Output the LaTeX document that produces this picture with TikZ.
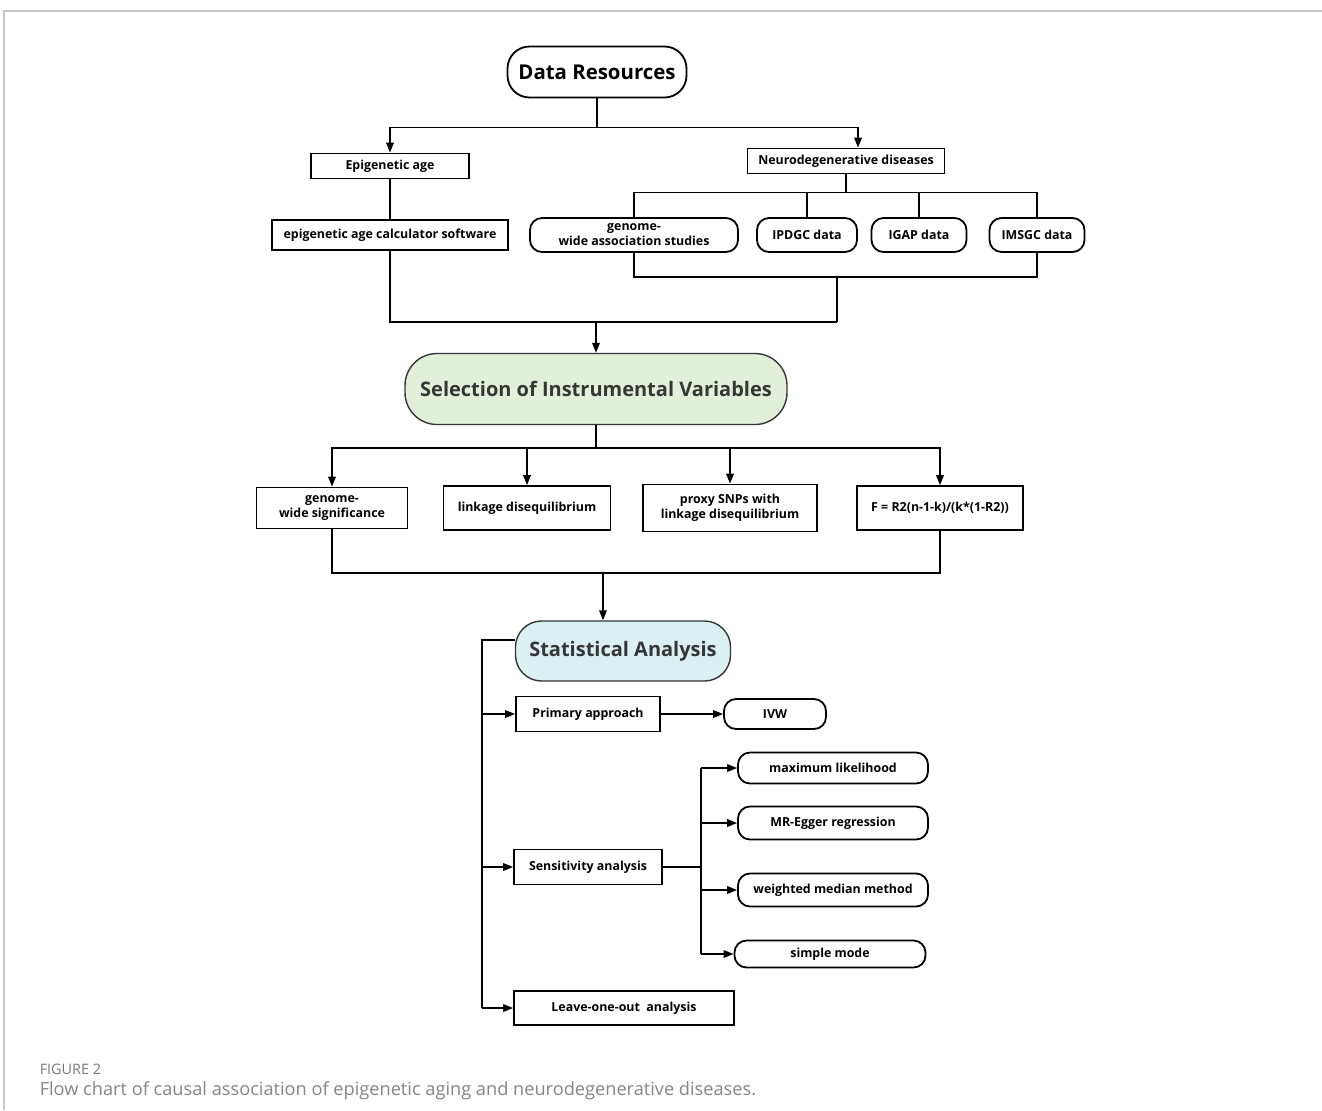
\documentclass[tikz,border=0pt]{standalone}
\usepackage{fontspec}
\setmainfont{Open Sans}
\usetikzlibrary{arrows.meta}
\definecolor{framegray}{HTML}{C8C8C8}
\definecolor{titlegray}{HTML}{363636}
\definecolor{sivgreen}{HTML}{E2F0D9}
\definecolor{sacyan}{HTML}{DAF0F2}
\definecolor{capgray}{HTML}{858585}

\begin{document}
\begin{tikzpicture}
                [x=0.5pt, y=-0.5pt, line width=0.75pt,
                    every node/.style={font=\bfseries\fontsize{6.2}{7.6}\selectfont, align=center, inner sep=0pt},
                    bx/.style 2 args={minimum width=#1*0.5pt, minimum height=#2*0.5pt},
                    sqbox/.style={draw, line width=0.9pt},
                    rdbox/.style={draw, line width=0.9pt, rounded corners=6pt},
                    arr/.style={-{Triangle[length=5pt,width=3.8pt]}},
                ]
                \tikzstyle{title}=[font=\bfseries\fontsize{10}{12}\selectfont, text=titlegray, line width=0.7pt]
                \useasboundingbox (0,0) rectangle (1322,1110);
                \draw[framegray, line width=0.6pt] (1322,11) -- (4,11) -- (4,1110);

                \node[rdbox, bx={179}{51}, rounded corners=11pt, font=\bfseries\fontsize{10.2}{12}\selectfont] (dr) at (597,72) {Data Resources};
                \node[sqbox, bx={158}{25}] (epi) at (390,166) {Epigenetic age};
                \node[sqbox, bx={236}{30}] (calc) at (390,235) {epigenetic age calculator software};
                \node[sqbox, bx={197}{25}] (nd) at (846,161) {Neurodegenerative diseases};
                \node[rdbox, bx={208}{34}] (gw) at (634,235) {genome-\\wide association studies};
                \node[rdbox, bx={100}{34}] (ipd) at (807,235) {IPDGC data};
                \node[rdbox, bx={95}{34}] (igap) at (919,235) {IGAP data};
                \node[rdbox, bx={95}{34}] (ims) at (1037,235) {IMSGC data};

                \node[rdbox, title, draw=titlegray, fill=sivgreen, bx={382}{71}, rounded corners=16pt] (siv) at (596,389) {Selection of Instrumental Variables};
                \node[sqbox, bx={151}{41}] (gws) at (332,508) {genome-\\wide significance};
                \node[sqbox, bx={167}{44}] (ld) at (527,508) {linkage disequilibrium};
                \node[sqbox, bx={174}{47}] (snp) at (730,508) {proxy SNPs with\\linkage disequilibrium};
                \node[sqbox, bx={166}{44}] (fst) at (940,508) {F = R2(n-1-k)/(k*(1-R2))};

                \node[rdbox, title, draw=titlegray, fill=sacyan, bx={215}{60}, rounded corners=13pt] (sa) at (623,651) {Statistical Analysis};
                \node[sqbox, bx={144}{35}] (pa) at (588,714) {Primary approach};
                \node[rdbox, bx={102}{30}] (ivw) at (775,714) {IVW};
                \node[sqbox, bx={148}{35}] (sens) at (588,867) {Sensitivity analysis};
                \node[rdbox, bx={190}{31}] (ml) at (833,768) {maximum likelihood};
                \node[rdbox, bx={190}{33}] (egg) at (833,823) {MR-Egger regression};
                \node[rdbox, bx={190}{33}] (wm) at (833,890) {weighted median method};
                \node[rdbox, bx={191}{27}] (sm) at (830,954) {simple mode};
                \node[sqbox, bx={220}{34}] (loo) at (624,1008) {Leave-one-out~ analysis};

                \draw (dr.south) -- ++(0,29) coordinate (b1);
                \draw[arr] (b1) -| (epi.north);
                \draw[arr] (b1) -| ([xshift=6pt]nd.north);
                \draw (epi) -- (calc);
                \draw (nd.south) -- ++(0,18) coordinate (b2);
                \draw (b2) -| (gw.north);
                \draw (b2) -| (ims.north);
                \draw (ipd.north |- b2) -- (ipd.north);
                \draw (igap.north |- b2) -- (igap.north);
                \coordinate (b3) at (837,277);
                \coordinate (j1) at (837,322);
                \draw (gw.south) |- (b3) -| (ims.south);
                \draw (b3) -- (j1);
                \draw (calc.south) |- (j1);
                \draw[arr] (siv.north |- j1) -- (siv.north);

                \draw (siv.south) -- ++(0,23) coordinate (b4);
                \draw[arr] (b4) -| (gws.north);
                \draw[arr] (b4) -| (fst.north);
                \draw[arr] (ld.north |- b4) -- (ld.north);
                \draw[arr] (snp.north |- b4) -- (snp.north);
                \coordinate (b5) at (603,573);
                \draw (gws.south) |- (b5) -| (fst.south);
                \draw[arr] (b5) -- (b5 |- sa.north);

                \coordinate (spine) at (482,640);
                \draw ([yshift=5.5pt]sa.west) -- (spine) -- (spine |- loo.west);
                \draw[arr] (spine |- pa.west) -- (pa.west);
                \draw[arr] (spine |- sens.west) -- (sens.west);
                \draw[arr] (spine |- loo.west) -- (loo.west);
                \draw[arr] (pa) -- (ivw);
                \draw (sens.east) -- ++(38,0) coordinate (s1);
                \draw (s1 |- ml.west) -- (s1 |- sm.west);
                \draw[arr] (s1 |- ml.west) -- (ml.west);
                \draw[arr] (s1 |- egg.west) -- (egg.west);
                \draw[arr] (s1 |- wm.west) -- (wm.west);
                \draw[arr] (s1 |- sm.west) -- (sm.west);

                \node[anchor=west, font=\fontsize{7.2}{8}\selectfont, text=capgray!90!black] (fig) at (39,1069) {FIGURE 2};
                \node[anchor=west, font=\fontsize{9.1}{10}\selectfont, text=capgray] (cap) at (39,1091) {Flow chart of causal association of epigenetic aging and neurodegenerative diseases.};
            \end{tikzpicture}
\end{document}
